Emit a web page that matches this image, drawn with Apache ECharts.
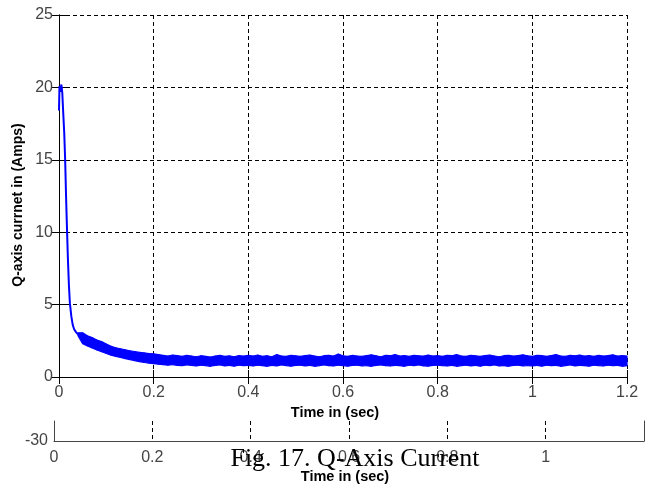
<!DOCTYPE html>
<html>
<head>
<meta charset="utf-8">
<script src="https://cdn.jsdelivr.net/npm/echarts@6/dist/echarts.min.js"></script>
<style>
  html, body { margin: 0; background: #fff; }
  #chart { width: 654px; height: 491px; }
</style>
</head>
<body>
<div id="chart"></div>
<script>
// Q-axis current: start-up spike, then a noisy band settling near 1.1 A
const xTicks = [0, 0.2, 0.4, 0.6, 0.8, 1, 1.2];
const yTicks = [0, 5, 10, 15, 20, 25];

// first few ms, read point by point
const headTime = [0, 0.001, 0.003, 0.005, 0.007, 0.009, 0.011, 0.013, 0.015, 0.017, 0.019, 0.021, 0.023, 0.026, 0.029, 0.032, 0.036, 0.04];
const headAmps = [18.4, 20.1, 19.7, 20.2, 19.6, 18.2, 16.9, 15.0, 12.4, 10.1, 8.0, 6.3, 5.1, 4.2, 3.6, 3.3, 3.1, 2.95];

// afterwards the noise band, read every 10 ms: top and bottom edge
const bandStart = 0.04;
const bandStep = 0.01;
const bandTop = [
  3.05, 3.05, 2.85, 2.72, 2.55, 2.45, 2.28, 2.12, 2.02, 1.95, 1.88, 1.8, 1.76, 1.7, 1.66, 1.62, 1.6,
  1.55, 1.5, 1.45, 1.52, 1.48, 1.42, 1.5, 1.45, 1.4, 1.47,
  1.43, 1.38, 1.45, 1.5, 1.42, 1.46, 1.4, 1.48, 1.44, 1.5,
  1.45, 1.52, 1.42, 1.47, 1.4, 1.55, 1.45, 1.43, 1.5, 1.46,
  1.42, 1.48, 1.52, 1.45, 1.4, 1.47, 1.5, 1.44, 1.58, 1.46,
  1.43, 1.5, 1.45, 1.42, 1.48, 1.53, 1.46, 1.4, 1.5, 1.47,
  1.55, 1.45, 1.48, 1.42, 1.5, 1.46, 1.44, 1.52, 1.45, 1.48,
  1.42, 1.5, 1.47, 1.55, 1.45, 1.43, 1.5, 1.46, 1.42, 1.48,
  1.52, 1.45, 1.4, 1.47, 1.5, 1.44, 1.48, 1.53, 1.46, 1.42,
  1.5, 1.47, 1.43, 1.48, 1.55, 1.45, 1.42, 1.5, 1.46, 1.52,
  1.44, 1.48, 1.42, 1.5, 1.45, 1.47, 1.53, 1.44, 1.48, 1.45
];
const bandBottom = [
  2.85, 2.3, 2.15, 2.0, 1.87, 1.75, 1.62, 1.5, 1.42, 1.35, 1.26, 1.2, 1.12, 1.06, 1.0, 0.96, 0.92,
  0.88, 0.85, 0.82, 0.86, 0.8, 0.78, 0.84, 0.8, 0.76, 0.82,
  0.79, 0.74, 0.8, 0.83, 0.77, 0.8, 0.75, 0.82, 0.78, 0.8,
  0.76, 0.82, 0.78, 0.74, 0.8, 0.77, 0.83, 0.79, 0.75, 0.8,
  0.82, 0.77, 0.8, 0.74, 0.79, 0.83, 0.78, 0.76, 0.81, 0.79,
  0.75, 0.8, 0.82, 0.77, 0.79, 0.74, 0.8, 0.83, 0.78, 0.76,
  0.8, 0.78, 0.74, 0.81, 0.79, 0.83, 0.77, 0.75, 0.8, 0.82,
  0.78, 0.76, 0.8, 0.74, 0.79, 0.82, 0.77, 0.8, 0.75, 0.81,
  0.79, 0.83, 0.76, 0.78, 0.74, 0.8, 0.82, 0.77, 0.79, 0.76,
  0.8, 0.75, 0.82, 0.78, 0.8, 0.74, 0.79, 0.83, 0.77, 0.8,
  0.78, 0.75, 0.81, 0.79, 0.76, 0.82, 0.78, 0.8, 0.74, 0.79
];

// cut-off second plot underneath
const lowerTicks = [-30, -20];

const bandTime = bandTop.map((_, i) => +(bandStart + i * bandStep).toFixed(3));
const headData = headTime.map((t, i) => [t, headAmps[i]]);
// each item: one slice of the band, from sample i to sample i+1
const bandData = bandTime.slice(0, -1).map((t, i) =>
  [t, bandTop[i], bandBottom[i], bandTime[i + 1], bandTop[i + 1], bandBottom[i + 1]]);

const font = "'Liberation Sans', Arial, sans-serif";
const dash = [4, 3];
const blue = "#0000ff";

function renderBand(params, api) {
  const a = api.coord([api.value(0), api.value(1)]);
  const b = api.coord([api.value(3), api.value(4)]);
  const c = api.coord([api.value(3), api.value(5)]);
  const d = api.coord([api.value(0), api.value(2)]);
  return {
    type: "polygon",
    shape: { points: [a, b, c, d] },
    style: { fill: blue, stroke: blue, lineWidth: 1.2, lineJoin: "bevel" }
  };
}

const chart = echarts.init(document.getElementById("chart"), null, { renderer: "canvas" });

chart.setOption({
  animation: false,
  backgroundColor: "#fff",
  grid: [
    { left: 59, top: 15, width: 568, height: 362 },
    { left: 54, top: 421, width: 590, height: 20 }
  ],
  xAxis: [
    {
      gridIndex: 0, type: "value",
      min: xTicks[0], max: xTicks[xTicks.length - 1], interval: xTicks[1] - xTicks[0],
      axisLine: { lineStyle: { color: "#333", width: 1 } },
      axisTick: { inside: true, length: 7, lineStyle: { color: "#000" } },
      axisLabel: { color: "#444", fontFamily: font, fontSize: 16, margin: 8 },
      splitLine: { show: true, lineStyle: { color: "#000", type: dash } }
    },
    {
      gridIndex: 0, type: "value", position: "top",
      min: xTicks[0], max: xTicks[xTicks.length - 1], interval: xTicks[1] - xTicks[0],
      axisLine: { lineStyle: { color: "#000" } },
      axisTick: { inside: true, length: 7, lineStyle: { color: "#000" } },
      axisLabel: { show: false }, splitLine: { show: false }
    },
    {
      gridIndex: 1, type: "value",
      min: xTicks[0], max: xTicks[xTicks.length - 1], interval: xTicks[1] - xTicks[0],
      axisLine: { lineStyle: { color: "#444" } },
      axisTick: { show: false },
      axisLabel: { color: "#444", fontFamily: font, fontSize: 16, margin: 9, showMaxLabel: false },
      splitLine: { show: true, lineStyle: { color: "#000", type: dash } }
    }
  ],
  yAxis: [
    {
      gridIndex: 0, type: "value",
      min: yTicks[0], max: yTicks[yTicks.length - 1], interval: yTicks[1] - yTicks[0],
      axisLine: { show: true, lineStyle: { color: "#000" } },
      axisTick: { show: true, inside: true, length: 7, lineStyle: { color: "#000" } },
      axisLabel: { color: "#444", fontFamily: font, fontSize: 16, margin: 6 },
      splitLine: { show: true, lineStyle: { color: "#000", type: dash } }
    },
    {
      gridIndex: 0, type: "value", position: "right",
      min: yTicks[0], max: yTicks[yTicks.length - 1], interval: yTicks[1] - yTicks[0],
      axisLine: { show: true, lineStyle: { color: "#000" } },
      axisTick: { show: true, inside: true, length: 7, lineStyle: { color: "#000" } },
      axisLabel: { show: false }, splitLine: { show: false }
    },
    {
      gridIndex: 1, type: "value",
      min: lowerTicks[0], max: lowerTicks[1], interval: lowerTicks[1] - lowerTicks[0],
      axisLine: { show: true, lineStyle: { color: "#444" } },
      axisTick: { show: false },
      axisLabel: { color: "#444", fontFamily: font, fontSize: 16, margin: 6, showMaxLabel: false,
        padding: [6, 0, 0, 0] },
      splitLine: { show: false }
    },
    {
      gridIndex: 1, type: "value", position: "right",
      min: lowerTicks[0], max: lowerTicks[1],
      axisLine: { show: true, lineStyle: { color: "#444" } },
      axisTick: { show: false }, axisLabel: { show: false }, splitLine: { show: false }
    }
  ],
  series: [
    {
      type: "line", xAxisIndex: 0, yAxisIndex: 0,
      data: headData, showSymbol: false,
      lineStyle: { color: blue, width: 2 }, z: 3
    },
    {
      type: "custom", xAxisIndex: 0, yAxisIndex: 0,
      data: bandData, renderItem: renderBand,
      encode: { x: [0, 3], y: [1, 2, 4, 5] }, z: 3
    }
  ],
  graphic: [
    {
      type: "text", x: 18, y: 205, rotation: Math.PI / 2,
      style: { text: "Q-axis currnet in (Amps)", fontFamily: font, fontWeight: "bold", fontSize: 14,
        fill: "#000", align: "center", verticalAlign: "middle" }
    },
    {
      type: "text", x: 335, y: 413,
      style: { text: "Time in (sec)", fontFamily: font, fontWeight: "bold", fontSize: 14.5,
        fill: "#000", align: "center", verticalAlign: "middle" }
    },
    {
      type: "text", x: 345, y: 477,
      style: { text: "Time in (sec)", fontFamily: font, fontWeight: "bold", fontSize: 14.5,
        fill: "#000", align: "center", verticalAlign: "middle" }
    },
    {
      type: "text", x: 355, y: 459, z: 100,
      style: { text: "Fig. 17. Q-Axis Current", fontFamily: "'Liberation Serif', 'Times New Roman', serif",
        fontSize: 26, fill: "#000", align: "center", verticalAlign: "middle" }
    }
  ]
});
</script>
</body>
</html>
